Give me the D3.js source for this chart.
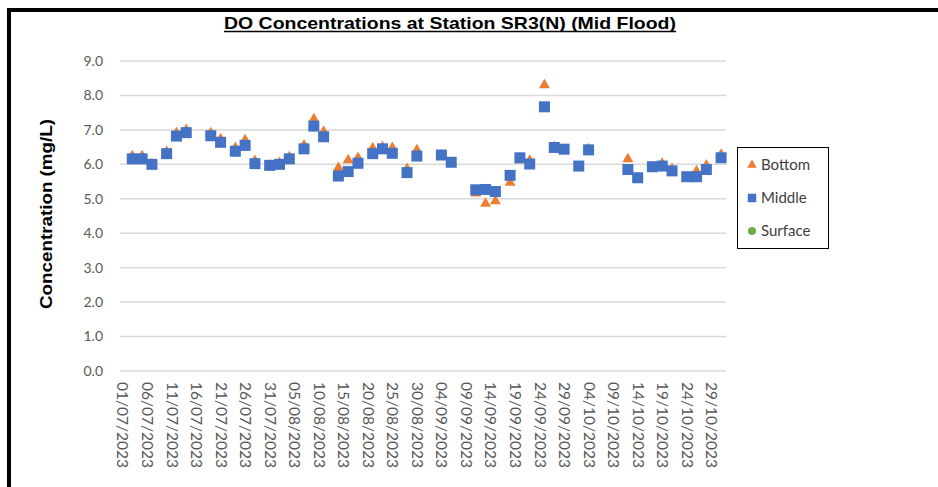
<!DOCTYPE html>
<html>
<head>
<meta charset="utf-8">
<script src="https://cdn.jsdelivr.net/npm/d3@7"></script>
<style>
  body { margin: 0; background: #fff; }
  svg { display: block; }
  .tick-label { font-family: Lato, "Open Sans", sans-serif; fill: #595959; }
</style>
</head>
<body>
<svg id="chart" width="938" height="487"></svg>
<script>
// sample dates (dd/mm/yyyy)
var dates = ["03/07/2023", "05/07/2023", "07/07/2023", "10/07/2023", "12/07/2023", "14/07/2023",
    "19/07/2023", "21/07/2023", "24/07/2023", "26/07/2023", "28/07/2023", "31/07/2023",
    "02/08/2023", "04/08/2023", "07/08/2023", "09/08/2023", "11/08/2023", "14/08/2023",
    "16/08/2023", "18/08/2023", "21/08/2023", "23/08/2023", "25/08/2023", "28/08/2023",
    "30/08/2023", "04/09/2023", "06/09/2023", "11/09/2023", "13/09/2023", "15/09/2023",
    "18/09/2023", "20/09/2023", "22/09/2023", "25/09/2023", "27/09/2023", "29/09/2023",
    "02/10/2023", "04/10/2023", "12/10/2023", "14/10/2023", "17/10/2023", "19/10/2023",
    "21/10/2023", "24/10/2023", "26/10/2023", "28/10/2023", "31/10/2023"];

var bottom = [6.27, 6.27, 6.04, 6.39, 6.94, 7.03, 6.94, 6.76, 6.51, 6.73, 6.13, 6.00,
    6.07, 6.24, 6.58, 7.34, 6.98, 5.93, 6.15, 6.22, 6.50, 6.53, 6.51, 5.90,
    6.44, 6.29, 6.06, 5.19, 4.89, 4.96, 5.50, 6.15, 6.14, 8.33, 6.53, 6.45,
    5.95, 6.47, 6.18, 5.62, 5.93, 6.05, 5.90, 5.62, 5.83, 6.00, 6.31];

var middle = [6.16, 6.16, 6.00, 6.31, 6.82, 6.92, 6.83, 6.64, 6.38, 6.55, 6.02, 5.97,
    6.00, 6.16, 6.45, 7.11, 6.80, 5.66, 5.79, 6.03, 6.31, 6.45, 6.32, 5.76,
    6.24, 6.27, 6.06, 5.26, 5.27, 5.21, 5.68, 6.19, 6.01, 7.67, 6.49, 6.44,
    5.95, 6.42, 5.85, 5.61, 5.93, 5.95, 5.81, 5.64, 5.64, 5.85, 6.19];

// no surface readings shown on this chart
var surface = [];

var yTicks = [0, 1, 2, 3, 4, 5, 6, 7, 8, 9];
var xTickLabels = ["01/07/2023", "06/07/2023", "11/07/2023", "16/07/2023", "21/07/2023",
    "26/07/2023", "31/07/2023", "05/08/2023", "10/08/2023", "15/08/2023", "20/08/2023",
    "25/08/2023", "30/08/2023", "04/09/2023", "09/09/2023", "14/09/2023", "19/09/2023",
    "24/09/2023", "29/09/2023", "04/10/2023", "09/10/2023", "14/10/2023", "19/10/2023",
    "24/10/2023", "29/10/2023"];

var parseDate = d3.timeParse("%d/%m/%Y");

var svg = d3.select("#chart");

// outer frame (only top and left edges fall inside the picture)
svg.append("rect")
    .attr("x", 9).attr("y", 10)
    .attr("width", 1000).attr("height", 600)
    .attr("fill", "none")
    .attr("stroke", "#000")
    .attr("stroke-width", 4);

var plot = { left: 120, right: 726, top: 61, bottom: 371 };

var x = d3.scaleTime()
    .domain([new Date(2023, 5, 30, 12), new Date(2023, 10, 1)])
    .range([plot.left, plot.right]);

var y = d3.scaleLinear()
    .domain([0, 9])
    .range([plot.bottom, plot.top]);

// gridlines
svg.append("g").selectAll("line")
    .data(yTicks)
    .enter().append("line")
    .attr("x1", plot.left).attr("x2", plot.right)
    .attr("y1", function(d) { return y(d); })
    .attr("y2", function(d) { return y(d); })
    .attr("stroke", "#d9d9d9")
    .attr("stroke-width", 1.5);

// y tick labels
svg.append("g").selectAll("text")
    .data(yTicks)
    .enter().append("text")
    .attr("class", "tick-label")
    .attr("x", 103)
    .attr("y", function(d) { return y(d); })
    .attr("dy", "0.35em")
    .attr("text-anchor", "end")
    .attr("font-size", 14)
    .text(function(d) { return d.toFixed(1); });

// x tick labels, rotated to read downwards
svg.append("g").selectAll("text")
    .data(xTickLabels)
    .enter().append("text")
    .attr("class", "tick-label")
    .attr("font-size", 15.5)
    .attr("transform", function(d) { return "translate(" + (x(parseDate(d)) - 5) + ",382)rotate(90)"; })
    .text(function(d) { return d; });

// axis title
svg.append("text")
    .attr("transform", "translate(52," + ((plot.top + plot.bottom) / 2 - 2) + ")rotate(-90)")
    .attr("text-anchor", "middle")
    .attr("font-family", "'Liberation Sans', Arial, sans-serif")
    .attr("font-weight", "bold")
    .attr("font-size", 17)
    .attr("textLength", 190)
    .attr("lengthAdjust", "spacingAndGlyphs")
    .text("Concentration (mg/L)");

// chart title, underline drawn as a plain line so it doesn't break at descenders
svg.append("text")
    .attr("x", 450).attr("y", 29)
    .attr("text-anchor", "middle")
    .attr("font-family", "'Liberation Sans', Arial, sans-serif")
    .attr("font-weight", "bold")
    .attr("font-size", 17)
    .attr("textLength", 452)
    .attr("lengthAdjust", "spacingAndGlyphs")
    .text("DO Concentrations at Station SR3(N) (Mid Flood)");

svg.append("line")
    .attr("x1", 224).attr("x2", 676)
    .attr("y1", 31.5).attr("y2", 31.5)
    .attr("stroke", "#000")
    .attr("stroke-width", 1.5);

var triangle = d3.symbol().type(d3.symbolTriangle).size(52);

function rows(values) {
    return values.map(function(v, i) { return { date: parseDate(dates[i]), value: v }; });
}

// bottom (triangles), drawn first
svg.append("g").selectAll("path")
    .data(rows(bottom))
    .enter().append("path")
    .attr("d", triangle)
    .attr("transform", function(d) { return "translate(" + x(d.date) + "," + (y(d.value) + 1) + ")"; })
    .attr("fill", "#ED7D31");

// middle (squares)
svg.append("g").selectAll("rect")
    .data(rows(middle))
    .enter().append("rect")
    .attr("x", function(d) { return x(d.date) - 5.5; })
    .attr("y", function(d) { return y(d.value) - 5.5; })
    .attr("width", 11).attr("height", 11)
    .attr("fill", "#4472C4");

// surface (circles)
svg.append("g").selectAll("circle")
    .data(rows(surface))
    .enter().append("circle")
    .attr("cx", function(d) { return x(d.date); })
    .attr("cy", function(d) { return y(d.value); })
    .attr("r", 5)
    .attr("fill", "#70AD47");

// legend
var legend = svg.append("g").attr("transform", "translate(737,147)");
legend.append("rect")
    .attr("x", 0.5).attr("y", 0.5)
    .attr("width", 91).attr("height", 101)
    .attr("fill", "#fff")
    .attr("stroke", "#000")
    .attr("stroke-width", 1);

var legendItems = [
    { name: "Bottom", color: "#ED7D31", shape: "triangle" },
    { name: "Middle", color: "#4472C4", shape: "square" },
    { name: "Surface", color: "#70AD47", shape: "circle" }
];

var item = legend.selectAll(".item")
    .data(legendItems)
    .enter().append("g")
    .attr("class", "item")
    .attr("transform", function(d, i) { return "translate(15," + (18 + i * 33) + ")"; });

item.append("path")
    .attr("d", function(d) {
        if (d.shape == "triangle") return d3.symbol().type(d3.symbolTriangle).size(40)();
        if (d.shape == "square") return d3.symbol().type(d3.symbolSquare).size(72)();
        return d3.symbol().type(d3.symbolCircle).size(50)();
    })
    .attr("fill", function(d) { return d.color; });

item.append("text")
    .attr("x", 9)
    .attr("dy", "0.35em")
    .attr("font-family", "Lato, 'Open Sans', sans-serif")
    .attr("font-size", 15)
    .attr("fill", "#404040")
    .text(function(d) { return d.name; });
</script>
</body>
</html>
